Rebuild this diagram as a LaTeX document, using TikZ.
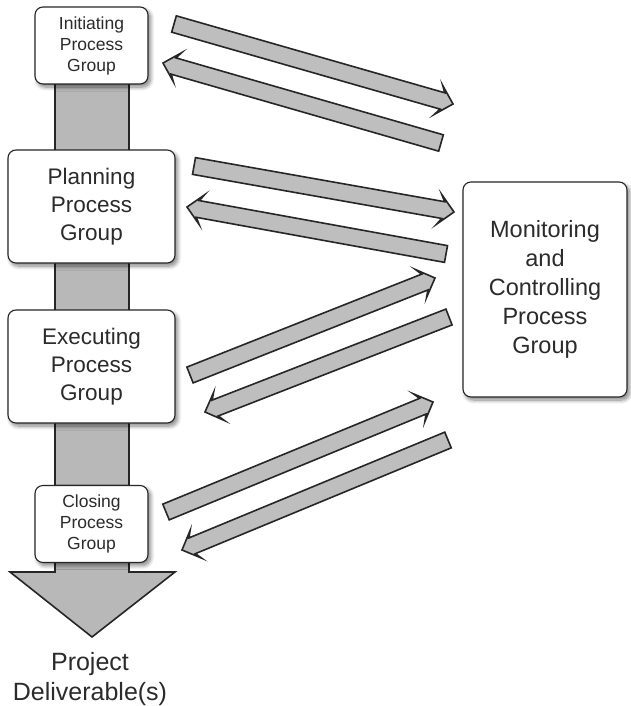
\documentclass[tikz,border=0pt]{standalone}
\usepackage{fontspec}
\setmainfont{Liberation Sans}
\usetikzlibrary{calc,shadows.blur}

\definecolor{ink}{HTML}{262626}
\definecolor{txt}{HTML}{2B2B2B}
\definecolor{flowgray}{HTML}{B8B8B8}
\definecolor{arrowgray}{HTML}{BEBEBE}

\tikzset{
  groupbox/.style={draw=ink, line width=1.1pt, fill=white, rounded corners=8pt,
    inner sep=0pt, align=center, text=txt,
    blur shadow={shadow xshift=2.5pt, shadow yshift=-3pt, shadow blur steps=8,
      shadow blur radius=4pt, shadow opacity=50}},
  smallbox/.style={groupbox, minimum width=113pt, minimum height=77pt,
    font=\fontsize{17.5}{21}\selectfont},
  bigbox/.style={groupbox, minimum width=167pt, minimum height=113pt,
    font=\fontsize{22.5}{28}\selectfont},
  fatshape/.style={draw=ink, fill=arrowgray, line width=1.6pt, line join=miter},
  flowbar/.style={draw=ink, fill=flowgray, line width=1.6pt, line join=miter}
}

% broad outlined arrow from tail centre #1 to tip #2
\newcommand\fatarrow[2]{%
  \coordinate (#1n) at ($(#2)!11pt!(#1)$);
  \coordinate (#1w) at ($(#2)!15pt!(#1)$);
  \draw[fatshape]
    ($(#1)!8.5pt!90:(#2)$) -- ($(#1n)!8.5pt!90:(#2)$) -- ($(#1w)!15pt!90:(#2)$)
    -- (#2)
    -- ($(#1w)!15pt!-90:(#2)$) -- ($(#1n)!8.5pt!-90:(#2)$) -- ($(#1)!8.5pt!-90:(#2)$)
    -- cycle;%
}

\begin{document}
\begin{tikzpicture}[x=1pt, y=-1pt]
  \useasboundingbox (0,0) rectangle (630,706);

  % main flow bar ending in a broad arrowhead
  \draw[flowbar] (55,60) -- (55,572) -- (10,572) -- (92,637) -- (175,572)
    -- (129,572) -- (129,60) -- cycle;

  % process groups
  \node[smallbox] (init) at (91.5,45.5) {Initiating\\Process\\Group};
  \node[bigbox]   (plan) at (91.5,206.5) {Planning\\Process\\Group};
  \node[bigbox]   (exec) at (91.5,366.5) {Executing\\Process\\Group};
  \node[smallbox] (close) at (91.5,524) {Closing\\Process\\Group};
  \node[groupbox, minimum width=164pt, minimum height=215pt,
        font=\fontsize{23.5}{29}\selectfont] (mc) at (545,289.5)
        {Monitoring\\and\\Controlling\\Process\\Group};

  \node[text=txt, align=center, inner sep=0pt,
        font=\fontsize{25}{30.5}\selectfont] (deliv) at (90,679)
        {Project\\Deliverable(s)};

  % arrow end points
  \coordinate (a1t) at (174,24);   \coordinate (a1p) at (453,104);
  \coordinate (a2t) at (441,143);  \coordinate (a2p) at (163,63);
  \coordinate (a3t) at (194,166);  \coordinate (a3p) at (454,212);
  \coordinate (a4t) at (446,254);  \coordinate (a4p) at (187,207);
  \coordinate (a5t) at (190,375);  \coordinate (a5p) at (435,278);
  \coordinate (a6t) at (449,317);  \coordinate (a6p) at (205,412);
  \coordinate (a7t) at (166,512);  \coordinate (a7p) at (433,402);
  \coordinate (a8t) at (448,440);  \coordinate (a8p) at (182,550);

  \fatarrow{a1t}{a1p}
  \fatarrow{a2t}{a2p}
  \fatarrow{a3t}{a3p}
  \fatarrow{a4t}{a4p}
  \fatarrow{a5t}{a5p}
  \fatarrow{a6t}{a6p}
  \fatarrow{a7t}{a7p}
  \fatarrow{a8t}{a8p}
\end{tikzpicture}
\end{document}
